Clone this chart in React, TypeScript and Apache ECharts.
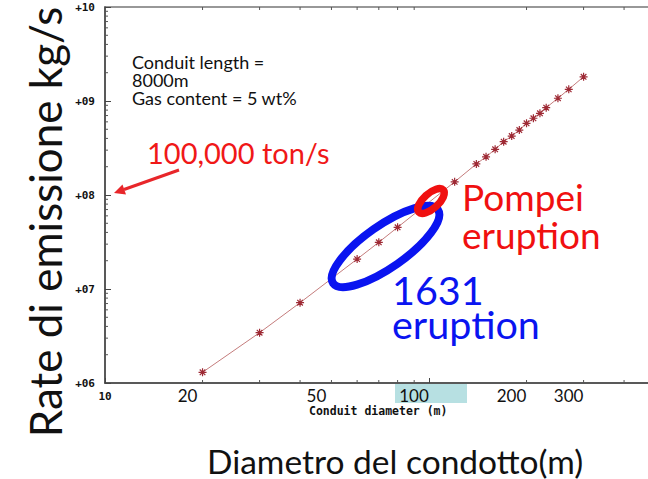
import React, { useEffect, useRef } from 'react';
import * as echarts from 'echarts';

// Conduit diameter (m) and computed mass eruption rate (kg/s)
const diameters = [20, 30, 40, 60, 70, 80, 120, 140, 150, 160, 170, 180, 190, 200, 210, 220, 230, 250, 270, 300];
const emissionRates = [
  1.3e6, 3.43e6, 7.15e6, 2.08e7, 3.14e7, 4.53e7, 1.38e8, 2.14e8, 2.55e8, 3.06e8,
  3.69e8, 4.24e8, 4.91e8, 5.79e8, 6.55e8, 7.4e8, 8.49e8, 1.07e9, 1.33e9, 1.81e9,
];

// Axis ranges and tick positions
const xRange = [10, 1000];
const yRange = [1e6, 1e10];
const xMinorTicks = [20, 30, 40, 50, 60, 70, 80, 90, 200, 300, 400, 500, 600, 700, 800, 900];
const yDecades = [1e6, 1e7, 1e8, 1e9];
const minorSteps = [2, 3, 4, 5, 6, 7, 8, 9];
const yMinorTicks = yDecades.flatMap((d) => minorSteps.map((s) => s * d));
const diameterLabels = [20, 50, 100, 200, 300];

const SANS = 'Lato, "Open Sans", sans-serif';
const MONO = '"DejaVu Sans Mono", monospace';

export default function App() {
  const ref = useRef<HTMLDivElement>(null);

  useEffect(() => {
    if (!ref.current) return;
    const chart = echarts.init(ref.current, undefined, { renderer: 'svg' });

    const txt = (text: string, x: number, y: number, size: number, color: string, lineHeight: number) => ({
      type: 'text',
      x,
      y,
      z: 200,
      style: {
        text,
        fontSize: size,
        lineHeight,
        fontFamily: SANS,
        fill: color,
        textAlign: 'left',
        align: 'left',
        textVerticalAlign: 'middle',
        verticalAlign: 'middle',
      },
    });

    chart.setOption({
      animation: false,
      grid: {
        left: 105,
        top: 7,
        width: 648,
        height: 376,
        show: true,
        borderColor: '#777',
        borderWidth: 1.5,
      },
      xAxis: {
        type: 'log',
        logBase: 10,
        min: xRange[0],
        max: xRange[1],
        axisLine: { lineStyle: { color: '#444', width: 1.5 } },
        axisTick: { inside: true, length: 5, lineStyle: { color: '#444' } },
        axisLabel: {
          formatter: (v: number) => (Math.round(v) === 10 ? '10' : ''),
          fontFamily: MONO,
          fontWeight: 'bold',
          fontSize: 11,
          color: '#111',
          margin: 8,
        },
        splitLine: { show: false },
      },
      yAxis: {
        type: 'log',
        logBase: 10,
        min: yRange[0],
        max: yRange[1],
        axisLine: { lineStyle: { color: '#444', width: 1.5 } },
        axisTick: { inside: true, length: 6, lineStyle: { color: '#444' } },
        axisLabel: {
          formatter: (v: number) => '+' + String(Math.round(Math.log10(v))).padStart(2, '0'),
          fontFamily: MONO,
          fontWeight: 'bold',
          fontSize: 11,
          color: '#111',
          margin: 10,
        },
        splitLine: { show: false },
      },
      series: [
        {
          type: 'custom',
          name: 'x ticks',
          clip: false,
          silent: true,
          data: xMinorTicks.map((v) => [v, yRange[0]]),
          renderItem: (_p: any, api: any) => {
            const v = api.value(0);
            const b = api.coord([v, yRange[0]]);
            const t = api.coord([v, yRange[1]]);
            return {
              type: 'group',
              children: [
                { type: 'line', shape: { x1: b[0], y1: b[1], x2: b[0], y2: b[1] - 3 }, style: { stroke: '#555', lineWidth: 1 } },
                { type: 'line', shape: { x1: t[0], y1: t[1], x2: t[0], y2: t[1] + 3 }, style: { stroke: '#555', lineWidth: 1 } },
              ],
            };
          },
        },
        {
          type: 'custom',
          name: 'y ticks',
          clip: false,
          silent: true,
          data: yMinorTicks.map((v) => [xRange[0], v]),
          renderItem: (_p: any, api: any) => {
            const p = api.coord([xRange[0], api.value(1)]);
            return {
              type: 'line',
              shape: { x1: p[0], y1: p[1], x2: p[0] + 3, y2: p[1] },
              style: { stroke: '#555', lineWidth: 1 },
            };
          },
        },
        {
          type: 'custom',
          name: 'diameter labels',
          clip: false,
          silent: true,
          z: 20,
          data: diameterLabels.map((v) => [v, yRange[0]]),
          renderItem: (_p: any, api: any) => {
            const v = api.value(0);
            const p = api.coord([v, yRange[0]]);
            return {
              type: 'text',
              x: p[0] - 15,
              y: p[1] + 12,
              style: {
                text: String(v),
                fontSize: 17,
                fontFamily: SANS,
                fill: '#111',
                textAlign: 'center',
                align: 'center',
                textVerticalAlign: 'middle',
                verticalAlign: 'middle',
              },
            };
          },
        },
        {
          type: 'line',
          name: 'Emission rate',
          data: diameters.map((d, i) => [d, emissionRates[i]]),
          symbol: 'path://M4 0L4 8M0 4L8 4M1.2 1.2L6.8 6.8M1.2 6.8L6.8 1.2',
          symbolSize: 8,
          lineStyle: { color: '#c47c7c', width: 1 },
          itemStyle: { color: 'transparent', borderColor: '#9e2a35', borderWidth: 1.2 },
          z: 5,
        },
      ],
      graphic: [
        // highlight box behind the 100 label
        { type: 'rect', z: 1, shape: { x: 395, y: 384, width: 72, height: 19 }, style: { fill: '#b7e0e2' } },
        {
          type: 'text',
          x: 309,
          y: 411,
          z: 200,
          style: {
            text: 'Conduit diameter (m)',
            fontSize: 11.5,
            fontFamily: MONO,
            fontWeight: 'bold',
            fill: '#111',
            textAlign: 'left',
            align: 'left',
            textVerticalAlign: 'middle',
            verticalAlign: 'middle',
          },
        },
        txt('Conduit length =\n8000m\nGas content = 5 wt%', 132, 80, 18, '#111', 18),
        txt('100,000 ton/s', 147, 152, 29, '#f01818', 32),
        // arrow pointing to the 1e8 level
        { type: 'line', z: 200, shape: { x1: 179, y1: 170, x2: 124, y2: 189.5 }, style: { stroke: '#e8262a', lineWidth: 3 } },
        {
          type: 'polygon',
          z: 200,
          shape: { points: [[114, 193], [126, 194.5], [122.5, 184.5]] },
          style: { fill: '#e8262a' },
        },
        // eruption highlights
        {
          type: 'ellipse',
          z: 150,
          x: 385.5,
          y: 246.5,
          rotation: (35 * Math.PI) / 180,
          shape: { cx: 0, cy: 0, rx: 64, ry: 21 },
          style: { fill: 'none', stroke: '#0a14f0', lineWidth: 8 },
        },
        {
          type: 'ellipse',
          z: 150,
          x: 431,
          y: 201,
          rotation: (42 * Math.PI) / 180,
          shape: { cx: 0, cy: 0, rx: 16.5, ry: 7.5 },
          style: { fill: 'none', stroke: '#f01010', lineWidth: 7.5 },
        },
        txt('Pompei\neruption', 462, 215, 37, '#f01010', 38),
        txt('1631\neruption', 392, 306, 39.5, '#0a14f0', 34),
        txt('Diametro del condotto(m)', 207, 461, 33.5, '#111', 32),
        {
          type: 'text',
          x: 45,
          y: 222,
          z: 200,
          rotation: Math.PI / 2,
          style: {
            text: 'Rate di emissione kg/s',
            fontSize: 44,
            fontFamily: SANS,
            fill: '#111',
            textAlign: 'center',
            align: 'center',
            textVerticalAlign: 'middle',
            verticalAlign: 'middle',
          },
        },
      ],
    });

    return () => chart.dispose();
  }, []);

  // The plot area runs past the right edge; the wrapper crops it.
  return (
    <div
      style={{
        position: 'absolute',
        left: 0,
        top: 0,
        width: 648,
        height: 479,
        overflow: 'hidden',
        background: '#fff',
      }}
    >
      <div ref={ref} style={{ width: 770, height: 479 }} />
    </div>
  );
}
